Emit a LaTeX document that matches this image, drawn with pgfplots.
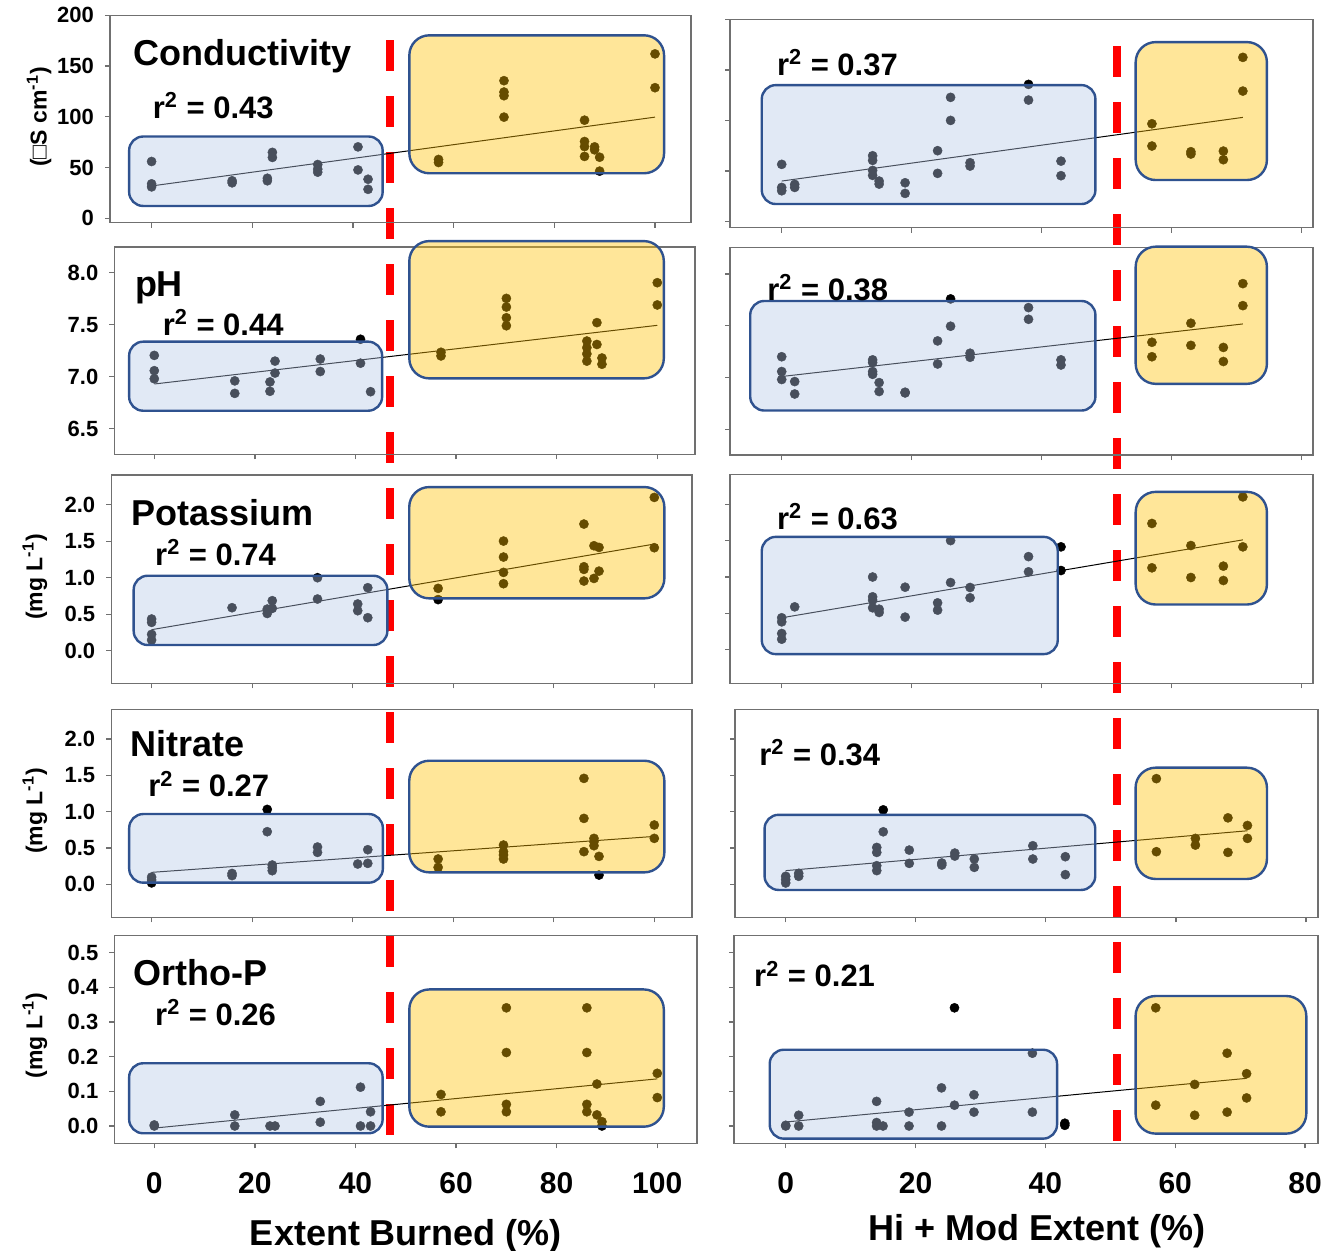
\documentclass[border=0pt]{standalone}
\usepackage{fontspec}
\setmainfont{Liberation Sans}
\usepackage{pgfplots}
\pgfplotsset{compat=1.18}
\definecolor{boxblue}{HTML}{B4C7E7}
\definecolor{boxyel}{HTML}{FFC000}
\definecolor{boxedge}{HTML}{2F528F}
\definecolor{axgray}{HTML}{707070}
\definecolor{dashred}{HTML}{FF0000}
\newcommand\titlefont{\fontsize{18}{20}\selectfont\bfseries}
\newcommand\rfont{\fontsize{15.5}{18}\selectfont\bfseries}
\newcommand\ylfont{\fontsize{11.5}{13}\selectfont\bfseries}
\pgfplotsset{
  panel/.style={scale only axis, clip=false, anchor=south west,
    tick align=outside, tick pos=left, major tick length=2.5pt,
    axis line style={axgray, line width=0.65pt},
    every tick/.style={axgray, line width=0.65pt},
    /pgf/number format/assume math mode=true,
    yticklabel style={font=\fontsize{11}{12}\selectfont\bfseries, inner sep=0pt, anchor=east, xshift=-5.35pt},
    xticklabel style={font=\fontsize{15}{17}\selectfont\bfseries, inner sep=0pt, anchor=north, yshift=-11.7pt},
  },
  noxlab/.style={xticklabels={}},
  noylab/.style={yticklabels={}},
  leftx/.style={xtick={0,20,...,100}},
  rightx/.style={xtick={0,20,...,80}},
  onedec/.style={yticklabel style={/pgf/number format/.cd, fixed, fixed zerofill, precision=1}},
  dot/.style={only marks, mark=*, mark size=2.3pt, mark options={fill=black, draw=black, line width=0.2pt}},
  regline/.style={black, line width=0.5pt, mark=none},
}
\tikzset{
  bbox/.style={draw=boxedge, line width=1.2pt, fill=boxblue, fill opacity=0.4, rounded corners=7pt},
  ybox/.style={draw=boxedge, line width=1.2pt, fill=boxyel, fill opacity=0.4, rounded corners=10pt},
}
% box corners are named inside each axis, the boxes are drawn over the finished axis
\newcommand\boxat[4]{\coordinate (bA) at #1; \coordinate (bB) at #2; \coordinate (yA) at #3; \coordinate (yB) at #4;}
\newcommand\drawboxes{\draw[bbox] (bA) rectangle (bB); \draw[ybox] (yA) rectangle (yB);}
\begin{document}
\begin{tikzpicture}
\useasboundingbox (0,0) rectangle (661pt,-625pt);
% threshold lines
\draw[dashred, line width=3.75pt, dash pattern=on 15.5pt off 12.5pt] (195pt,-20pt) -- (195pt,-567.5pt);
\draw[dashred, line width=3.75pt, dash pattern=on 15.5pt off 12.5pt] (558.5pt,-23pt) -- (558.5pt,-570.5pt);

% ---------------- Row 1: Conductivity ----------------
\begin{axis}[panel, noxlab, leftx, at={(55pt,-111.35pt)}, width=290.5pt, height=103.7pt,
  xmin=-8.26, xmax=107.15, ymin=-4.3, ymax=200, ytick={0,50,...,200}]
\addplot[dot] coordinates {(0,56) (0,34) (0,31) (16,35) (16,37) (23,39.5) (23,37) (24,65) (24,60) (33,53) (33,48.5) (33,45.5) (41,70.4) (41,47.7) (43,38.5) (43,28.6) (57,58) (57,55) (70,135.6) (70,124.4) (70,120.8) (70,99.7) (86,96.7) (86,75.7) (86,70.7) (86,61) (88,70.4) (88,67.5) (89,60.2) (89,46.5) (100,162) (100,128.7)};
\addplot[regline] coordinates {(0,31.9) (100,99.7)};
\boxat{(axis cs:-4.46,12.2)}{(axis cs:45.9,80.6)}{(axis cs:51.2,44.4)}{(axis cs:101.8,180.3)}
\end{axis}
\drawboxes

\begin{axis}[panel, noxlab, noylab, rightx, at={(365pt,-113.85pt)}, width=291.5pt, height=104.2pt,
  xmin=-7.96, xmax=81.8, ymin=-5.9, ymax=200, ytick={0,50,...,200}]
\addplot[dot] coordinates {(0,56.7) (0,33.9) (0,30.6) (2,36.9) (2,33.9) (14,65.2) (14,60.6) (14,50.7) (14,45.8) (15,40.2) (15,37.2) (19,38.5) (19,28) (24,70.2) (24,47.8) (26,122.9) (26,100.1) (29,58.3) (29,55) (38,135.7) (38,120.2) (43,59.9) (43,45.5) (57,96.8) (57,74.8) (63,69.2) (63,66.9) (68,69.8) (68,61.3) (71,162.4) (71,129.1)};
\addplot[regline] coordinates {(0,40.2) (71,103.1)};
\boxat{(axis cs:-3.07,17.5)}{(axis cs:48.3,135)}{(axis cs:54.5,41.2)}{(axis cs:74.7,177.5)}
\end{axis}
\drawboxes

% ---------------- Row 2: pH ----------------
\begin{axis}[panel, noxlab, leftx, onedec, at={(57.2pt,-227.15pt)}, width=290.3pt, height=103.65pt,
  xmin=-7.93, xmax=107.5, ymin=6.254, ymax=8.247, ytick={6.5,7.0,7.5,8.0}]
\addplot[dot] coordinates {(0,7.205) (0,7.058) (0,6.98) (16,6.96) (16,6.84) (23,6.95) (23,6.86) (24,7.15) (24,7.035) (33,7.17) (33,7.05) (41,7.36) (41,7.13) (43,6.856) (57,7.235) (57,7.2) (70,7.753) (70,7.67) (70,7.567) (70,7.49) (86,7.343) (86,7.28) (86,7.22) (86,7.15) (88,7.52) (88,7.31) (89,7.18) (89,7.12) (100,7.904) (100,7.69)};
\addplot[regline] coordinates {(0,6.93) (100,7.494)};
\boxat{(axis cs:-5.0,6.673)}{(axis cs:45.3,7.337)}{(axis cs:50.7,6.984)}{(axis cs:101.3,8.304)}
\end{axis}
\drawboxes

\begin{axis}[panel, noxlab, noylab, rightx, at={(365pt,-227.5pt)}, width=291.5pt, height=103.65pt,
  xmin=-7.96, xmax=81.8, ymin=6.25, ymax=8.254, ytick={6.5,7.0,7.5,8.0}]
\addplot[dot] coordinates {(0,7.20) (0,7.057) (0,6.98) (2,6.96) (2,6.84) (14,7.17) (14,7.144) (14,7.057) (14,7.03) (15,6.95) (15,6.864) (19,6.857) (19,6.85) (24,7.353) (24,7.13) (26,7.759) (26,7.495) (29,7.234) (29,7.195) (38,7.675) (38,7.562) (43,7.17) (43,7.12) (57,7.34) (57,7.20) (63,7.524) (63,7.31) (68,7.29) (68,7.154) (71,7.907) (71,7.694)};
\addplot[regline] coordinates {(0,7.009) (71,7.517)};
\boxat{(axis cs:-4.85,6.68)}{(axis cs:48.3,7.739)}{(axis cs:54.5,6.938)}{(axis cs:74.7,8.264)}
\end{axis}
\drawboxes

% ---------------- Row 3: Potassium ----------------
\begin{axis}[panel, noxlab, leftx, onedec, at={(55.65pt,-341.65pt)}, width=290.35pt, height=104.15pt,
  xmin=-8.02, xmax=107.5, ymin=-0.447, ymax=2.407, ytick={0,0.5,...,2.0}]
\addplot[dot] coordinates {(0,0.434) (0,0.388) (0,0.224) (0,0.146) (16,0.589) (23,0.57) (23,0.51) (24,0.685) (24,0.58) (33,1.0) (33,0.708) (41,0.64) (41,0.548) (43,0.863) (43,0.452) (57,0.854) (57,0.70) (70,1.502) (70,1.283) (70,1.073) (70,0.918) (86,1.735) (86,1.15) (86,1.114) (86,0.954) (88,1.438) (88,0.99) (89,1.415) (89,1.09) (100,2.1) (100,1.411)};
\addplot[regline] coordinates {(0,0.288) (100,1.461)};
\boxat{(axis cs:-3.57,0.078)}{(axis cs:46.9,1.027)}{(axis cs:51.25,0.717)}{(axis cs:102,2.242)}
\end{axis}
\drawboxes

\begin{axis}[panel, noxlab, noylab, rightx, at={(365pt,-341.65pt)}, width=291.5pt, height=104.5pt,
  xmin=-7.96, xmax=81.8, ymin=-0.46, ymax=2.41, ytick={0,0.5,...,2.0}]
\addplot[dot] coordinates {(0,0.44) (0,0.384) (0,0.224) (0,0.146) (2,0.59) (14,1.0) (14,0.728) (14,0.682) (14,0.577) (15,0.558) (15,0.513) (19,0.86) (19,0.449) (24,0.645) (24,0.545) (26,1.50) (26,0.924) (29,0.856) (29,0.714) (38,1.28) (38,1.071) (43,1.414) (43,1.089) (57,1.735) (57,1.126) (63,1.432) (63,0.993) (68,1.149) (68,0.952) (71,2.1) (71,1.414)};
\addplot[regline] coordinates {(0,0.44) (71,1.51)};
\boxat{(axis cs:-3.07,-0.059)}{(axis cs:42.5,1.551)}{(axis cs:54.5,0.622)}{(axis cs:74.7,2.169)}
\end{axis}
\drawboxes

% ---------------- Row 4: Nitrate ----------------
\begin{axis}[panel, noxlab, leftx, onedec, at={(55.65pt,-458.65pt)}, width=290.35pt, height=104pt,
  xmin=-8.02, xmax=107.5, ymin=-0.454, ymax=2.41, ytick={0,0.5,...,2.0}]
\addplot[dot] coordinates {(0,0.1) (0,0.06) (0,0.02) (16,0.15) (16,0.12) (23,1.032) (23,0.725) (24,0.266) (24,0.229) (24,0.188) (33,0.514) (33,0.44) (41,0.28) (43,0.477) (43,0.289) (57,0.349) (57,0.234) (70,0.541) (70,0.45) (70,0.404) (70,0.349) (86,1.459) (86,0.908) (86,0.45) (88,0.633) (88,0.587) (88,0.532) (89,0.385) (89,0.128) (100,0.817) (100,0.633)};
\addplot[regline] coordinates {(0,0.165) (100,0.66)};
\boxat{(axis cs:-4.46,0.023)}{(axis cs:46.0,0.968)}{(axis cs:51.25,0.165)}{(axis cs:102,1.702)}
\end{axis}
\drawboxes

\begin{axis}[panel, noxlab, noylab, rightx, at={(367.55pt,-458.65pt)}, width=291.45pt, height=104pt,
  xmin=-7.78, xmax=81.85, ymin=-0.455, ymax=2.41, ytick={0,0.5,...,2.0}]
\addplot[dot] coordinates {(0,0.11) (0,0.064) (0,0.018) (2,0.151) (2,0.11) (14,0.508) (14,0.439) (14,0.256) (14,0.188) (15,1.025) (15,0.723) (19,0.471) (19,0.288) (24,0.293) (24,0.265) (26,0.43) (26,0.389) (29,0.348) (29,0.233) (38,0.531) (38,0.348) (43,0.38) (43,0.133) (57,1.455) (57,0.449) (63,0.632) (63,0.54) (68,0.915) (68,0.439) (71,0.81) (71,0.632)};
\addplot[regline] coordinates {(0,0.188) (71,0.737)};
\boxat{(axis cs:-3.25,-0.078)}{(axis cs:47.6,0.957)}{(axis cs:53.8,0.073)}{(axis cs:74.0,1.606)}
\end{axis}
\drawboxes

% ---------------- Row 5: Ortho-P ----------------
\begin{axis}[panel, leftx, onedec, at={(57.2pt,-571.65pt)}, width=291.3pt, height=103.8pt,
  xmin=-7.93, xmax=107.9, ymin=-0.05, ymax=0.549, ytick={0,0.1,...,0.5}]
\addplot[dot] coordinates {(0,0.0) (0,0.003) (16,0.032) (16,0.0) (23,0.0) (24,0.0) (33,0.071) (33,0.011) (41,0.112) (41,0.0) (43,0.041) (43,0.0) (57,0.091) (57,0.041) (70,0.341) (70,0.212) (70,0.0625) (70,0.041) (86,0.341) (86,0.212) (86,0.0625) (86,0.041) (88,0.121) (88,0.032) (89,0.0125) (89,0.0) (100,0.152) (100,0.082)};
\addplot[regline] coordinates {(0,-0.006) (100,0.136)};
\boxat{(axis cs:-5.0,-0.021)}{(axis cs:45.4,0.181)}{(axis cs:50.7,-0.002)}{(axis cs:101.3,0.394)}
\end{axis}
\drawboxes

\begin{axis}[panel, noylab, rightx, at={(366.95pt,-571.65pt)}, width=292.05pt, height=103.8pt,
  xmin=-7.98, xmax=82.0, ymin=-0.05, ymax=0.549, ytick={0,0.1,...,0.5}]
\addplot[dot] coordinates {(0,0.0) (0,0.002) (2,0.031) (2,0.0) (14,0.071) (14,0.01) (14,0.0) (15,0.0) (19,0.04) (19,0.0) (24,0.11) (24,0.0) (26,0.341) (26,0.06) (29,0.09) (29,0.04) (38,0.21) (38,0.04) (43,0.008) (43,0.002) (57,0.341) (57,0.06) (63,0.12) (63,0.031) (68,0.21) (68,0.04) (71,0.151) (71,0.081)};
\addplot[regline] coordinates {(0,0.0115) (71,0.1375)};
\boxat{(axis cs:-2.46,-0.0365)}{(axis cs:41.8,0.22)}{(axis cs:53.9,-0.022)}{(axis cs:80.2,0.375)}
\end{axis}
\drawboxes

% ---------------- Text ----------------
\begin{scope}[every node/.style={inner sep=0pt}]
\node[anchor=base west, font=\titlefont] at (66.5pt,-32.5pt) {Conductivity};
\node[anchor=base west, font=\titlefont] at (67.3pt,-148.35pt) {pH};
\node[anchor=base west, font=\titlefont] at (65.7pt,-262.5pt) {Potassium};
\node[anchor=base west, font=\titlefont] at (65pt,-378.35pt) {Nitrate};
\node[anchor=base west, font=\titlefont] at (66.5pt,-492.5pt) {Ortho-P};

\node[anchor=base west, font=\rfont] at (76.25pt,-59.15pt) {r\textsuperscript{2} = 0.43};
\node[anchor=base west, font=\rfont] at (388.3pt,-37.5pt) {r\textsuperscript{2} = 0.37};
\node[anchor=base west, font=\rfont] at (81.2pt,-167.5pt) {r\textsuperscript{2} = 0.44};
\node[anchor=base west, font=\rfont] at (383.5pt,-150pt) {r\textsuperscript{2} = 0.38};
\node[anchor=base west, font=\rfont] at (77.4pt,-282.5pt) {r\textsuperscript{2} = 0.74};
\node[anchor=base west, font=\rfont] at (388.3pt,-264.5pt) {r\textsuperscript{2} = 0.63};
\node[anchor=base west, font=\rfont] at (74pt,-398.35pt) {r\textsuperscript{2} = 0.27};
\node[anchor=base west, font=\rfont] at (379.5pt,-382.5pt) {r\textsuperscript{2} = 0.34};
\node[anchor=base west, font=\rfont] at (77.4pt,-512.5pt) {r\textsuperscript{2} = 0.26};
\node[anchor=base west, font=\rfont] at (376.9pt,-493.35pt) {r\textsuperscript{2} = 0.21};

\node[rotate=90, font=\ylfont] at (19.5pt,-58.5pt) {(□S cm\textsuperscript{-1})};
\node[rotate=90, font=\ylfont] at (17.5pt,-288.5pt) {(mg L\textsuperscript{-1})};
\node[rotate=90, font=\ylfont] at (17.5pt,-405.5pt) {(mg L\textsuperscript{-1})};
\node[rotate=90, font=\ylfont] at (17.5pt,-517.75pt) {(mg L\textsuperscript{-1})};

\node[anchor=base, font=\titlefont] at (203pt,-622.5pt) {Extent Burned (\%)};
\node[anchor=base, font=\titlefont] at (518.5pt,-620pt) {Hi + Mod Extent (\%)};
\end{scope}
\end{tikzpicture}
\end{document}
